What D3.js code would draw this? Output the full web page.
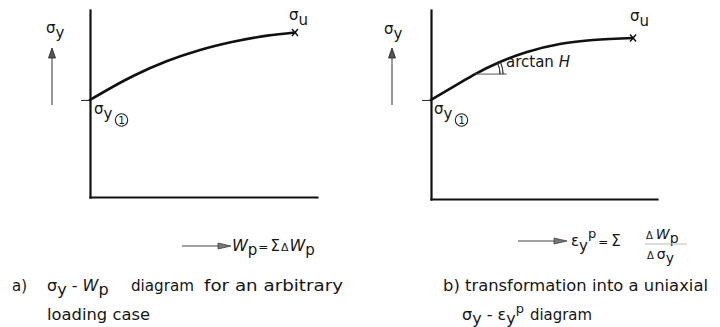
<!DOCTYPE html>
<html>
<head>
<meta charset="utf-8">
<script src="https://cdn.jsdelivr.net/npm/d3@7"></script>
<style>
  html, body { margin: 0; padding: 0; background: #fff; }
  svg { display: block; }
  text { font-family: "DejaVu Sans", sans-serif; fill: #161616; }
</style>
</head>
<body>
<script>
// Panel a: yield stress against accumulated plastic work (arbitrary units)
const workX = [0, 19, 34, 48.5, 63, 78, 90.3];
const workSigma = [51.9, 64.7, 72.7, 78.6, 83, 86.3, 88];

// Panel b: yield stress against equivalent plastic strain (arbitrary units)
const strainX = [0, 12.8, 19.5, 30.5, 42.5, 57, 71.7, 89.4];
const strainSigma = [52.4, 61.4, 66.1, 72.5, 77.8, 82, 84.1, 85.2];

// point of panel b where the hardening slope H is marked, and the reference line length
const tangentIndex = 2;
const tangentLength = 14;

const W = 720, H = 327;
const svg = d3.select("body").append("svg").attr("width", W).attr("height", H);

const panels = [
  { xs: workX, ys: workSigma, xRange: [90, 317], yRange: [197, 10],
    sigmaLbl: [46, 33], arrowX: 52, uLbl: [289, 20], y1Lbl: [94, 114] },
  { xs: strainX, ys: strainSigma, xRange: [431, 657], yRange: [199, 10],
    sigmaLbl: [384, 34], arrowX: 392, uLbl: [630, 21], y1Lbl: [434, 114] }
];

// builds a text element from pieces: {t, dy, dx, it(alic), fs}
function rich(g, x, y, parts, size) {
  const t = g.append("text").attr("x", x).attr("y", y).attr("font-size", size || 14);
  parts.forEach(p => {
    const s = t.append("tspan").text(p.t);
    if (p.dy) s.attr("dy", p.dy);
    if (p.dx) s.attr("dx", p.dx);
    if (p.it) s.attr("font-style", "italic");
    if (p.fs) s.attr("font-size", p.fs);
  });
  return t;
}

function fitted(g, x, y, str, size, len) {
  return g.append("text").attr("x", x).attr("y", y).attr("font-size", size)
    .attr("textLength", len).attr("lengthAdjust", "spacingAndGlyphs").text(str);
}

function upArrow(g, x, yTop, yBottom) {
  g.append("line").attr("x1", x).attr("x2", x).attr("y1", yBottom).attr("y2", yTop + 8)
    .attr("stroke", "#333").attr("stroke-width", 1);
  g.append("path").attr("d", `M${x},${yTop}L${x - 3.5},${yTop + 10}L${x + 3.5},${yTop + 10}Z`)
    .attr("fill", "#555").attr("stroke", "#222").attr("stroke-width", 0.8);
}

function rightArrow(g, xLeft, xRight, y) {
  g.append("line").attr("x1", xLeft).attr("x2", xRight - 10).attr("y1", y).attr("y2", y)
    .attr("stroke", "#444").attr("stroke-width", 1);
  g.append("path").attr("d", `M${xRight},${y}L${xRight - 13},${y - 3}L${xRight - 13},${y + 3}Z`)
    .attr("fill", "#777").attr("stroke", "#333").attr("stroke-width", 0.7);
}

panels.forEach((p, i) => {
  const x = d3.scaleLinear().domain([0, 100]).range(p.xRange);
  const y = d3.scaleLinear().domain([0, 100]).range(p.yRange);
  const g = svg.append("g");

  // axes: vertical axis carries a single tick at the initial yield stress
  const ya = g.append("g").attr("transform", `translate(${p.xRange[0]},0)`)
    .call(d3.axisLeft(y).tickValues([p.ys[0]]).tickSize(9).tickSizeOuter(0).tickFormat(""));
  const xa = g.append("g").attr("transform", `translate(0,${p.yRange[0]})`)
    .call(d3.axisBottom(x).tickValues([]).tickSizeOuter(0));
  [ya, xa].forEach(a => a.select(".domain").attr("stroke", "#111").attr("stroke-width", 2.2)
    .attr("stroke-linecap", "square"));
  ya.selectAll(".tick line").attr("stroke", "#333").attr("stroke-width", 1.1);

  // hardening curve
  const pts = p.xs.map((v, k) => [v, p.ys[k]]);
  g.append("path").datum(pts)
    .attr("d", d3.line().x(d => x(d[0])).y(d => y(d[1])).curve(d3.curveMonotoneX))
    .attr("fill", "none").attr("stroke", "#111").attr("stroke-width", 2.6)
    .attr("stroke-linecap", "round");

  // ultimate point cross
  const ex = x(p.xs[p.xs.length - 1]), ey = y(p.ys[p.ys.length - 1]);
  g.append("path").attr("d", `M${ex - 3},${ey - 3.5}L${ex + 3},${ey + 3.5}M${ex - 3},${ey + 3.5}L${ex + 3},${ey - 3.5}`)
    .attr("stroke", "#111").attr("stroke-width", 1.4);

  // labels
  rich(g, p.sigmaLbl[0], p.sigmaLbl[1], [{ t: "σ" }, { t: "y", dy: 5 }], 15);
  upArrow(g, p.arrowX, 48, 105);
  rich(g, p.uLbl[0], p.uLbl[1], [{ t: "σ" }, { t: "u", dy: 5 }], 15);
  rich(g, p.y1Lbl[0], p.y1Lbl[1], [{ t: "σ" }, { t: "y", dy: 5 }], 15);
  const cx = p.y1Lbl[0] + 27.5, cy = p.y1Lbl[1] + 6;
  g.append("circle").attr("cx", cx).attr("cy", cy).attr("r", 6.2)
    .attr("fill", "none").attr("stroke", "#222").attr("stroke-width", 1.1);
  g.append("text").attr("x", cx).attr("y", cy + 3.8).attr("text-anchor", "middle")
    .attr("font-size", 10.5).text("1");

  if (i === 1) {
    // slope marker: horizontal reference line and double angle arc
    const tx = x(p.xs[tangentIndex]), ty = y(p.ys[tangentIndex]);
    const hx = x(p.xs[tangentIndex] + tangentLength);
    g.append("line").attr("x1", tx).attr("x2", hx).attr("y1", ty).attr("y2", ty)
      .attr("stroke", "#555").attr("stroke-width", 1);
    const nx = x(p.xs[tangentIndex + 1]), ny = y(p.ys[tangentIndex + 1]);
    const ang = Math.atan2(ty - ny, nx - tx);
    [25, 28].forEach(r => {
      const arc = d3.arc().innerRadius(r).outerRadius(r)
        .startAngle(Math.PI / 2 - ang).endAngle(Math.PI / 2);
      g.append("path").attr("transform", `translate(${tx},${ty})`).attr("d", arc())
        .attr("fill", "none").attr("stroke", "#333").attr("stroke-width", 0.9);
    });
    rich(g, 506, 67, [{ t: "arctan " }, { t: "H", it: true }], 15);
  }
});

// abscissa legends
rightArrow(svg, 182, 231, 246);
rich(svg, 232, 251, [
  { t: "W", it: true }, { t: "p", dy: 4, fs: 15 }, { t: "=", dy: -4, dx: 1, fs: 12 },
  { t: "Σ", dx: 2, fs: 15 }, { t: "Δ", dx: 1, fs: 11 }, { t: "W", dx: 1, it: true }, { t: "p", dy: 4, fs: 15 }
], 16);

rightArrow(svg, 518, 567, 241);
rich(svg, 571, 246, [
  { t: "ε" }, { t: "y", dy: 5 }, { t: "p", dy: -13, fs: 13 }, { t: "=", dx: 2, dy: 8, fs: 12 },
  { t: "Σ", dx: 3, fs: 15 }
], 15);
rich(svg, 646, 239, [{ t: "Δ", fs: 10 }, { t: "W", dx: 3, it: true }, { t: "p", dy: 4 }], 14);
svg.append("line").attr("x1", 645).attr("x2", 687).attr("y1", 244).attr("y2", 244)
  .attr("stroke", "#bbb").attr("stroke-width", 1);
rich(svg, 647, 259, [{ t: "Δ", fs: 10 }, { t: "σ", dx: 3 }, { t: "y", dy: 4 }], 14);

// captions
rich(svg, 12, 291, [{ t: "a)" }], 15);
rich(svg, 47, 291, [{ t: "σ" }, { t: "y", dy: 4 }, { t: " - ", dy: -4 }, { t: "W", it: true }, { t: "p", dy: 4 }], 16);
fitted(svg, 131, 291, "diagram", 15.5, 63);
fitted(svg, 204, 291, "for an arbitrary", 15.5, 139);
fitted(svg, 47, 320, "loading  case", 15.5, 103);

fitted(svg, 443, 291, "b) transformation  into  a  uniaxial", 15.5, 265);
rich(svg, 462, 320, [
  { t: "σ" }, { t: "y", dy: 4 }, { t: " - ", dy: -4 }, { t: "ε" }, { t: "y", dy: 4 }, { t: "p", dy: -11, fs: 13 }
], 16);
fitted(svg, 530, 320, "diagram", 15.5, 62);
</script>
</body>
</html>
